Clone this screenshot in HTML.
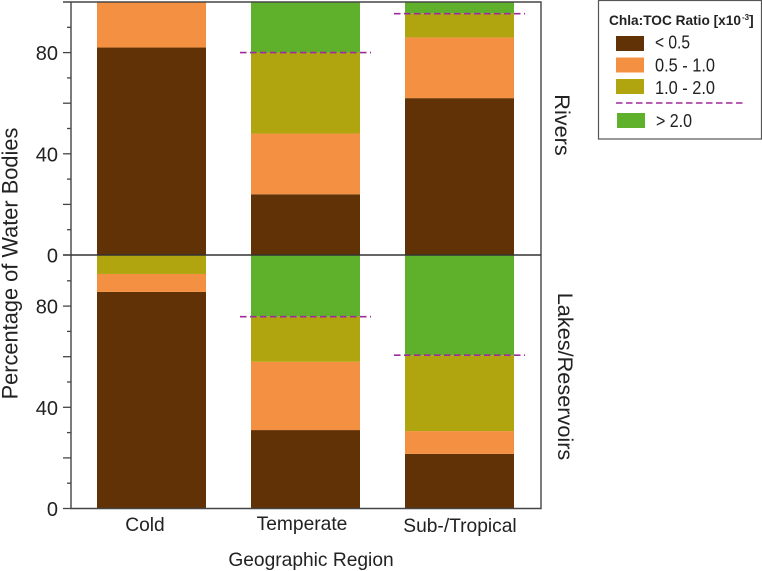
<!DOCTYPE html>
<html lang="en">
<head>
<meta charset="utf-8">
<title>Chla:TOC Ratio by Geographic Region</title>
<style>
html,body{margin:0;padding:0;background:#fff;width:762px;height:571px;overflow:hidden}
svg{display:block}
text{font-family:"Liberation Sans",Arial,sans-serif;fill:#222}
</style>
</head>
<body>
<svg id="chart" xmlns="http://www.w3.org/2000/svg" width="762" height="571" viewBox="0 0 762 571"></svg>
<script>
const categories = ['Cold', 'Temperate', 'Sub-/Tropical'];
const panels = ['Rivers', 'Lakes/Reservoirs'];
const classes = ['< 0.5', '0.5 - 1.0', '1.0 - 2.0', '> 2.0'];
const riversLow = [82, 24, 62];
const riversMid = [18, 24, 24];
const riversHigh = [0, 32, 9.5];
const riversTop = [0, 20, 4.5];
const riversThreshold = [null, 80, 95.4];
const lakesLow = [85.6, 31, 21.6];
const lakesMid = [7.1, 27, 9];
const lakesHigh = [7.3, 17.8, 30];
const lakesTop = [0, 24.2, 39.4];
const lakesThreshold = [null, 75.8, 60.6];
const yTicks = [0, 10, 20, 30, 40, 50, 60, 70, 80, 90];
const yLabels = [0, 40, 80];
const majorTicks = [0, 20, 40, 60, 80];

const colors = ['#603205', '#f39041', '#b0a50f', '#5fb12c'];
const svg = document.getElementById('chart');
const NS = 'http://www.w3.org/2000/svg';
function make(tag, attrs, text) {
  const el = document.createElementNS(NS, tag);
  for (const k in attrs) el.setAttribute(k, attrs[k]);
  if (text !== undefined) el.textContent = text;
  svg.appendChild(el);
  return el;
}
const panelBase = [255, 508.5];
const unit = 2.53;
const yScale = (panel, v) => panelBase[panel] - v * unit;
const barLeft = i => 97 + i * 154;
const barWidth = 109;
const panelData = [
  [riversLow, riversMid, riversHigh, riversTop],
  [lakesLow, lakesMid, lakesHigh, lakesTop]
];
const panelThresholds = [riversThreshold, lakesThreshold];

panelData.forEach((series, p) => {
  categories.forEach((cat, i) => {
    let cum = 0;
    series.forEach((vals, s) => {
      const v = vals[i];
      if (v <= 0) return;
      const y0 = yScale(p, cum);
      const y1 = yScale(p, cum + v);
      const bar = make('rect', {x: barLeft(i), y: y1, width: barWidth, height: y0 - y1, fill: colors[s]});
      
      
      cum += v;
    });
  });
});

panelThresholds.forEach((vals, p) => {
  vals.forEach((v, i) => {
    if (v === null) return;
    const y = yScale(p, v);
    const line = make('line', {x1: barLeft(i) - 11, x2: barLeft(i) + barWidth + 11, y1: y, y2: y, stroke: '#a02a9c', 'stroke-width': 1.6, 'stroke-dasharray': '6.5 3.5'});
    
    
  });
});

const axisColor = '#454545';
const frame = make('path', {d: 'M63 2H541V508.5H71V2', fill: 'none', stroke: axisColor, 'stroke-width': 1.4});


const divider = make('line', {x1: 63, x2: 541, y1: 255, y2: 255, stroke: '#333', 'stroke-width': 1.4});



[0, 1].forEach(p => {
  yTicks.forEach(t => {
    const y = yScale(p, t);
    const major = majorTicks.includes(t);
    const tick = make('line', {x1: major ? 63 : 67, x2: 71, y1: y, y2: y, stroke: axisColor, 'stroke-width': 1.3});
    
    
  });
  yLabels.forEach(t => {
    const label = make('text', {x: 58, y: yScale(p, t) + 7.5, 'text-anchor': 'end', 'font-size': 20}, String(t));
    
    
  });
});

const catLabelX = [145, 302, 460];
const catLabelY = [531, 530, 532];
categories.forEach((cat, i) => {
  const label = make('text', {x: catLabelX[i], y: catLabelY[i], 'text-anchor': 'middle', 'font-size': 19.2}, cat);
  
  
});

const xTitle = make('text', {x: 311, y: 566, 'text-anchor': 'middle', 'font-size': 19.2}, 'Geographic Region');


const yTitle = make('text', {transform: 'translate(17.5 263.5) rotate(-90)', 'text-anchor': 'middle', 'font-size': 21.8}, 'Percentage of Water Bodies');



const panelLabelCenter = [125, 376.5];
const panelLabelX = [555, 558];
panels.forEach((name, p) => {
  const label = make('text', {transform: 'translate(' + panelLabelX[p] + ' ' + panelLabelCenter[p] + ') rotate(90)', 'text-anchor': 'middle', 'font-size': 21.7}, name);
  
  
});

const legendBox = make('rect', {x: 598.5, y: 0.5, width: 163, height: 138.5, fill: '#fff', stroke: '#555', 'stroke-width': 1.2});


const legendTitle = make('text', {x: 609, y: 25, 'font-size': 14, 'font-weight': 'bold', textLength: 132, lengthAdjust: 'spacingAndGlyphs'}, 'Chla:TOC Ratio [x10');


const legendSup = make('text', {x: 742, y: 20, 'font-size': 8, 'font-weight': 'bold'}, '-3');


const legendBracket = make('text', {x: 749, y: 25, 'font-size': 14, 'font-weight': 'bold'}, ']');



const legendY = [36, 57.5, 79, 113];
const legendBaseline = [48.5, 71.5, 94, 127];
const legendTextWidth = [35, 60, 60, 36];
classes.forEach((name, i) => {
  const swatch = make('rect', {x: i === 3 ? 617 : 616, y: legendY[i], width: 28, height: 15, fill: colors[i]});
  
  
  const label = make('text', {x: i === 3 ? 656 : 655, y: legendBaseline[i], 'font-size': 18, textLength: legendTextWidth[i], lengthAdjust: 'spacingAndGlyphs'}, name);
  
  
});
const legendDash = make('line', {x1: 616, x2: 746, y1: 103, y2: 103, stroke: '#a02a9c', 'stroke-width': 1.6, 'stroke-dasharray': '6.5 3.5'});


</script>
</body>
</html>
